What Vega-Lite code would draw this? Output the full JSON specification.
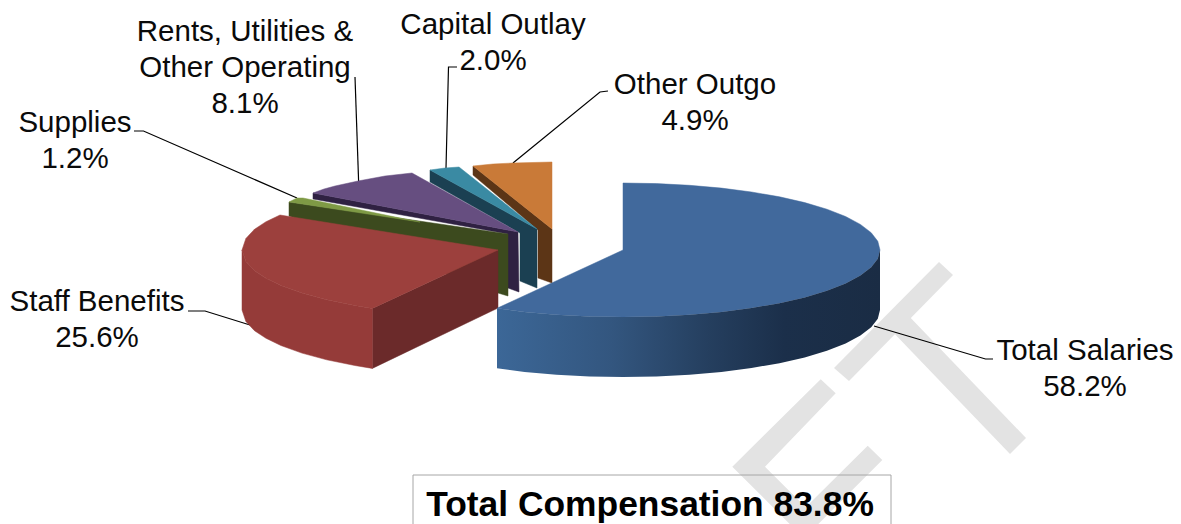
{
"$schema":"https://vega.github.io/schema/vega-lite/v6.json",
"width":1181,"height":524,"padding":0,"autosize":{"type":"none"},
"background":"white",
"view":{"stroke":null},
"datasets":{
"watermark":[
{"part":"T bar","i":1,"x":939,"y":262},{"part":"T bar","i":2,"x":953,"y":275},{"part":"T bar","i":3,"x":849,"y":381},{"part":"T bar","i":4,"x":834,"y":368},
{"part":"T stem","i":1,"x":905,"y":312},{"part":"T stem","i":2,"x":1026,"y":438},{"part":"T stem","i":3,"x":1010,"y":454},{"part":"T stem","i":4,"x":889,"y":328},
{"part":"E","i":1,"x":820.7,"y":379.3},{"part":"E","i":2,"x":835.7,"y":393.3},{"part":"E","i":3,"x":765,"y":466.7},{"part":"E","i":4,"x":805.7,"y":507.3},{"part":"E","i":5,"x":867.7,"y":445.7},{"part":"E","i":6,"x":882.3,"y":460},{"part":"E","i":7,"x":818.3,"y":524},{"part":"E","i":8,"x":789.7,"y":524},{"part":"E","i":9,"x":732.3,"y":466.7}
],
"slices":[
{"part":"Other Outgo wall","i":1,"x":473,"y":166},{"part":"Other Outgo wall","i":2,"x":473,"y":175},{"part":"Other Outgo wall","i":3,"x":538,"y":230},{"part":"Other Outgo wall","i":4,"x":538,"y":278},{"part":"Other Outgo wall","i":5,"x":552,"y":283},{"part":"Other Outgo wall","i":6,"x":552,"y":229},
{"part":"Other Outgo top","i":1,"x":473,"y":166},{"part":"Other Outgo top","i":2,"x":493,"y":164},{"part":"Other Outgo top","i":3,"x":513,"y":163},{"part":"Other Outgo top","i":4,"x":552,"y":162},{"part":"Other Outgo top","i":5,"x":552,"y":229},
{"part":"Capital Outlay wall","i":1,"x":430,"y":170},{"part":"Capital Outlay wall","i":2,"x":430,"y":182},{"part":"Capital Outlay wall","i":3,"x":520,"y":233},{"part":"Capital Outlay wall","i":4,"x":520,"y":281},{"part":"Capital Outlay wall","i":5,"x":537,"y":288},{"part":"Capital Outlay wall","i":6,"x":537,"y":229},
{"part":"Capital Outlay top","i":1,"x":430,"y":170},{"part":"Capital Outlay top","i":2,"x":445,"y":168},{"part":"Capital Outlay top","i":3,"x":459,"y":167},{"part":"Capital Outlay top","i":4,"x":537,"y":229},
{"part":"Rents wall","i":1,"x":313,"y":193},{"part":"Rents wall","i":2,"x":313,"y":199},{"part":"Rents wall","i":3,"x":508,"y":234},{"part":"Rents wall","i":4,"x":508,"y":288},{"part":"Rents wall","i":5,"x":519,"y":292},{"part":"Rents wall","i":6,"x":518,"y":232},
{"part":"Rents top","i":1,"x":313,"y":193},{"part":"Rents top","i":2,"x":324,"y":189},{"part":"Rents top","i":3,"x":335,"y":186},{"part":"Rents top","i":4,"x":358,"y":181},{"part":"Rents top","i":5,"x":385,"y":176},{"part":"Rents top","i":6,"x":412,"y":173},{"part":"Rents top","i":7,"x":518,"y":232},
{"part":"Supplies wall","i":1,"x":289,"y":202},{"part":"Supplies wall","i":2,"x":289,"y":216},{"part":"Supplies wall","i":3,"x":498,"y":293},{"part":"Supplies wall","i":4,"x":508,"y":296},{"part":"Supplies wall","i":5,"x":508,"y":234},
{"part":"Supplies top","i":1,"x":289,"y":202},{"part":"Supplies top","i":2,"x":297,"y":198},{"part":"Supplies top","i":3,"x":303,"y":198},{"part":"Supplies top","i":4,"x":400,"y":218},{"part":"Supplies top","i":5,"x":420,"y":222},
{"part":"Staff cut","i":1,"x":372.3,"y":308.4},{"part":"Staff cut","i":2,"x":498,"y":250},{"part":"Staff cut","i":3,"x":498,"y":308},{"part":"Staff cut","i":4,"x":372.3,"y":368.4},
{"part":"Staff wall","i":1,"x":242,"y":250},{"part":"Staff wall","i":2,"x":245.9,"y":261.6},{"part":"Staff wall","i":3,"x":254.5,"y":270.7},{"part":"Staff wall","i":4,"x":266,"y":278.3},{"part":"Staff wall","i":5,"x":280.9,"y":285.5},{"part":"Staff wall","i":6,"x":301.9,"y":293.1},{"part":"Staff wall","i":7,"x":326.7,"y":299.8},{"part":"Staff wall","i":8,"x":354.8,"y":305.5},{"part":"Staff wall","i":9,"x":372.3,"y":308.4},{"part":"Staff wall","i":10,"x":372.3,"y":368.4},{"part":"Staff wall","i":11,"x":354.8,"y":365.5},{"part":"Staff wall","i":12,"x":326.7,"y":359.8},{"part":"Staff wall","i":13,"x":301.9,"y":353.1},{"part":"Staff wall","i":14,"x":280.9,"y":345.5},{"part":"Staff wall","i":15,"x":266,"y":338.3},{"part":"Staff wall","i":16,"x":254.5,"y":330.7},{"part":"Staff wall","i":17,"x":245.9,"y":321.6},{"part":"Staff wall","i":18,"x":242,"y":310},
{"part":"Staff top","i":1,"x":498,"y":250},{"part":"Staff top","i":2,"x":280,"y":215},{"part":"Staff top","i":3,"x":266,"y":221.7},{"part":"Staff top","i":4,"x":254.5,"y":229.3},{"part":"Staff top","i":5,"x":245.9,"y":238.4},{"part":"Staff top","i":6,"x":242,"y":250},{"part":"Staff top","i":7,"x":245.9,"y":261.6},{"part":"Staff top","i":8,"x":254.5,"y":270.7},{"part":"Staff top","i":9,"x":266,"y":278.3},{"part":"Staff top","i":10,"x":280.9,"y":285.5},{"part":"Staff top","i":11,"x":301.9,"y":293.1},{"part":"Staff top","i":12,"x":326.7,"y":299.8},{"part":"Staff top","i":13,"x":354.8,"y":305.5},{"part":"Staff top","i":14,"x":372.3,"y":308.4},
{"part":"Salaries top","i":1,"x":623,"y":250},{"part":"Salaries top","i":2,"x":623,"y":183},{"part":"Salaries top","i":3,"x":656.5,"y":183.6},{"part":"Salaries top","i":4,"x":689.5,"y":185.3},{"part":"Salaries top","i":5,"x":721.4,"y":188.1},{"part":"Salaries top","i":6,"x":751.5,"y":192},{"part":"Salaries top","i":7,"x":779.5,"y":196.8},{"part":"Salaries top","i":8,"x":804.7,"y":202.6},{"part":"Salaries top","i":9,"x":826.9,"y":209.2},{"part":"Salaries top","i":10,"x":845.6,"y":216.5},{"part":"Salaries top","i":11,"x":860.4,"y":224.4},{"part":"Salaries top","i":12,"x":871.2,"y":232.7},{"part":"Salaries top","i":13,"x":877.8,"y":241.3},{"part":"Salaries top","i":14,"x":880,"y":250},{"part":"Salaries top","i":15,"x":877.8,"y":258.7},{"part":"Salaries top","i":16,"x":871.2,"y":267.3},{"part":"Salaries top","i":17,"x":860.4,"y":275.6},{"part":"Salaries top","i":18,"x":845.6,"y":283.5},{"part":"Salaries top","i":19,"x":826.9,"y":290.8},{"part":"Salaries top","i":20,"x":804.7,"y":297.4},{"part":"Salaries top","i":21,"x":779.5,"y":303.2},{"part":"Salaries top","i":22,"x":751.5,"y":308},{"part":"Salaries top","i":23,"x":721.4,"y":311.9},{"part":"Salaries top","i":24,"x":689.5,"y":314.7},{"part":"Salaries top","i":25,"x":656.5,"y":316.4},{"part":"Salaries top","i":26,"x":623,"y":317},{"part":"Salaries top","i":27,"x":589.5,"y":316.4},{"part":"Salaries top","i":28,"x":556.5,"y":314.7},{"part":"Salaries top","i":29,"x":524.6,"y":311.9},{"part":"Salaries top","i":30,"x":497,"y":308.3}
],
"salariesWall":[
{"i":1,"x":497,"y":308.3},{"i":2,"x":524.6,"y":311.9},{"i":3,"x":556.5,"y":314.7},{"i":4,"x":589.5,"y":316.4},{"i":5,"x":623,"y":317},{"i":6,"x":656.5,"y":316.4},{"i":7,"x":689.5,"y":314.7},{"i":8,"x":721.4,"y":311.9},{"i":9,"x":751.5,"y":308},{"i":10,"x":779.5,"y":303.2},{"i":11,"x":804.7,"y":297.4},{"i":12,"x":826.9,"y":290.8},{"i":13,"x":845.6,"y":283.5},{"i":14,"x":860.4,"y":275.6},{"i":15,"x":871.2,"y":267.3},{"i":16,"x":877.8,"y":258.7},{"i":17,"x":880,"y":250},{"i":18,"x":880,"y":310},{"i":19,"x":877.8,"y":318.7},{"i":20,"x":871.2,"y":327.3},{"i":21,"x":860.4,"y":335.6},{"i":22,"x":845.6,"y":343.5},{"i":23,"x":826.9,"y":350.8},{"i":24,"x":804.7,"y":357.4},{"i":25,"x":779.5,"y":363.2},{"i":26,"x":751.5,"y":368},{"i":27,"x":721.4,"y":371.9},{"i":28,"x":689.5,"y":374.7},{"i":29,"x":656.5,"y":376.4},{"i":30,"x":623,"y":377},{"i":31,"x":589.5,"y":376.4},{"i":32,"x":556.5,"y":374.7},{"i":33,"x":524.6,"y":371.9},{"i":34,"x":497,"y":368.3}
],
"leaders":[
{"slice":"Total Salaries","i":1,"x":874,"y":326},{"slice":"Total Salaries","i":2,"x":985.5,"y":359},{"slice":"Total Salaries","i":3,"x":993,"y":359},
{"slice":"Staff Benefits","i":1,"x":188,"y":311},{"slice":"Staff Benefits","i":2,"x":205,"y":311},{"slice":"Staff Benefits","i":3,"x":250,"y":325},
{"slice":"Supplies","i":1,"x":134,"y":131},{"slice":"Supplies","i":2,"x":143.5,"y":131},{"slice":"Supplies","i":3,"x":297,"y":198},
{"slice":"Rents","i":1,"x":355,"y":77},{"slice":"Rents","i":2,"x":358.6,"y":181},
{"slice":"Capital Outlay","i":1,"x":457,"y":67},{"slice":"Capital Outlay","i":2,"x":448.5,"y":67},{"slice":"Capital Outlay","i":3,"x":446,"y":168},
{"slice":"Other Outgo","i":1,"x":608,"y":91},{"slice":"Other Outgo","i":2,"x":600,"y":92},{"slice":"Other Outgo","i":3,"x":513,"y":163}
],
"box":[
{"i":1,"x":413,"y":524},{"i":2,"x":413,"y":475},{"i":3,"x":891,"y":475},{"i":4,"x":891,"y":524}
],
"labels":[
{"slice":"Total Salaries","value":58.2,"label":"Total Salaries\n58.2%","x":1085,"y":351},
{"slice":"Staff Benefits","value":25.6,"label":"Staff Benefits\n25.6%","x":97,"y":302},
{"slice":"Supplies","value":1.2,"label":"Supplies\n1.2%","x":75,"y":123},
{"slice":"Rents, Utilities & Other Operating","value":8.1,"label":"Rents, Utilities &\nOther Operating\n8.1%","x":245,"y":32},
{"slice":"Capital Outlay","value":2.0,"label":"Capital Outlay\n2.0%","x":493,"y":25},
{"slice":"Other Outgo","value":4.9,"label":"Other Outgo\n4.9%","x":695,"y":85}
],
"title":[{"label":"Total Compensation 83.8%","x":650,"y":505}]
},
"encoding":{
"x":{"field":"x","type":"quantitative","axis":null,"scale":{"domain":[0,1181],"nice":false,"zero":false}},
"y":{"field":"y","type":"quantitative","axis":null,"scale":{"domain":[524,0],"nice":false,"zero":false}}
},
"layer":[
{"data":{"name":"watermark"},
 "mark":{"type":"line","interpolate":"linear-closed","fill":"#e3e3e3","stroke":null},
 "encoding":{"detail":{"field":"part"},"order":{"field":"i","type":"quantitative"}}},
{"data":{"name":"box"},
 "mark":{"type":"line","stroke":"#a6a6a6","strokeWidth":1},
 "encoding":{"order":{"field":"i","type":"quantitative"}}},
{"data":{"name":"leaders"},
 "mark":{"type":"line","stroke":"#000000","strokeWidth":1.2},
 "encoding":{"detail":{"field":"slice"},"order":{"field":"i","type":"quantitative"}}},
{"data":{"name":"slices"},
 "mark":{"type":"line","interpolate":"linear-closed","strokeWidth":0.5},
 "encoding":{
  "fill":{"field":"part","type":"nominal","legend":null,"sort":null,"scale":{
   "domain":["Other Outgo wall","Other Outgo top","Capital Outlay wall","Capital Outlay top","Rents wall","Rents top","Supplies wall","Supplies top","Staff cut","Staff wall","Staff top","Salaries top"],
   "range":["#5c3516","#c97a38","#1b4052","#3a8aa3","#2f2142","#664e80","#3c4a1e","#7f9a45","#6b2a2a","#953b39","#9c403d","#41699c"]}},
  "stroke":{"field":"part","type":"nominal","legend":null,"sort":null,"scale":{
   "domain":["Other Outgo wall","Other Outgo top","Capital Outlay wall","Capital Outlay top","Rents wall","Rents top","Supplies wall","Supplies top","Staff cut","Staff wall","Staff top","Salaries top"],
   "range":["#5c3516","#c97a38","#1b4052","#3a8aa3","#2f2142","#664e80","#3c4a1e","#7f9a45","#6b2a2a","#953b39","#9c403d","#41699c"]}},
  "order":{"field":"i","type":"quantitative"}}},
{"data":{"name":"salariesWall"},
 "mark":{"type":"line","interpolate":"linear-closed","stroke":null,
  "fill":{"gradient":"linear","x1":0,"y1":0,"x2":1,"y2":0,"stops":[
   {"offset":0,"color":"#3c6797"},{"offset":0.3,"color":"#33567f"},{"offset":0.55,"color":"#253f5f"},{"offset":0.75,"color":"#1b2f4a"},{"offset":1,"color":"#1a2c44"}]}},
 "encoding":{"order":{"field":"i","type":"quantitative"}}},
{"data":{"name":"labels"},
 "mark":{"type":"text","font":"Liberation Sans","fontSize":29.5,"lineBreak":"\n","lineHeight":36,"align":"center","baseline":"middle","color":"#0a0a0a"},
 "encoding":{"text":{"field":"label"}}},
{"data":{"name":"title"},
 "mark":{"type":"text","font":"Liberation Sans","fontSize":35.4,"fontWeight":"bold","align":"center","baseline":"middle","color":"#000000"},
 "encoding":{"text":{"field":"label"}}}
]
}
